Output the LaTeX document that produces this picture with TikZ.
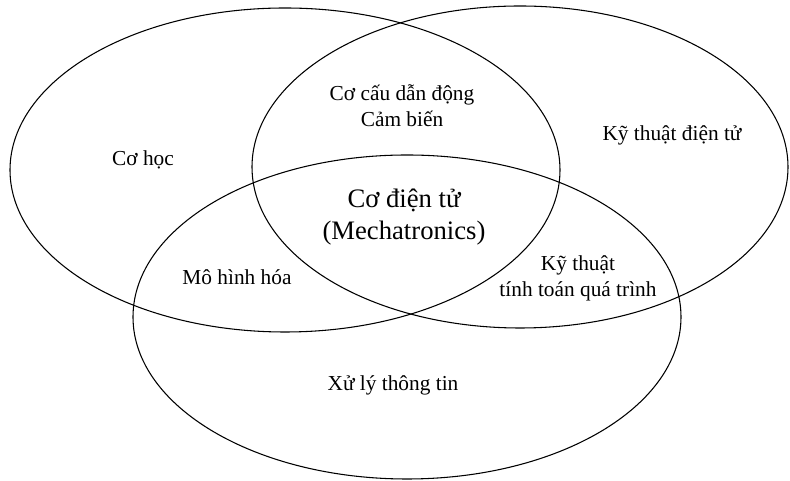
\documentclass[tikz,border=0pt]{standalone}
\usepackage{fontspec}
\setmainfont{Liberation Serif}
\begin{document}
\begin{tikzpicture}[x=0.75pt,y=0.75pt,
  setring/.style={draw=black,line width=0.8pt},
  lbl/.style={align=center,font=\fontsize{16}{19.5}\selectfont,inner sep=0pt},
  biglbl/.style={align=center,font=\fontsize{20}{23.5}\selectfont,inner sep=0pt}]
\useasboundingbox (0,0) rectangle (790,481);
% sets
\draw[setring] (285,311) ellipse [x radius=275, y radius=162];
\draw[setring] (520,314) ellipse [x radius=268, y radius=161];
\draw[setring] (407,164) ellipse [x radius=274, y radius=162];
% labels
\node[lbl] (cohoc) at (143,321) {Cơ học};
\node[lbl] (cocau) at (402,375) {Cơ cấu dẫn động\\Cảm biến};
\node[lbl] (ktdt) at (672,346) {Kỹ thuật điện tử};
\node[biglbl] (cdt) at (404,264) {Cơ điện tử\\(Mechatronics)};
\node[lbl] (mhh) at (237,204) {Mô hình hóa};
\node[lbl] (kttt) at (578,203) {Kỹ thuật\\tính toán quá trình};
\node[lbl] (xltt) at (393,96) {Xử lý thông tin};
\end{tikzpicture}
\end{document}
